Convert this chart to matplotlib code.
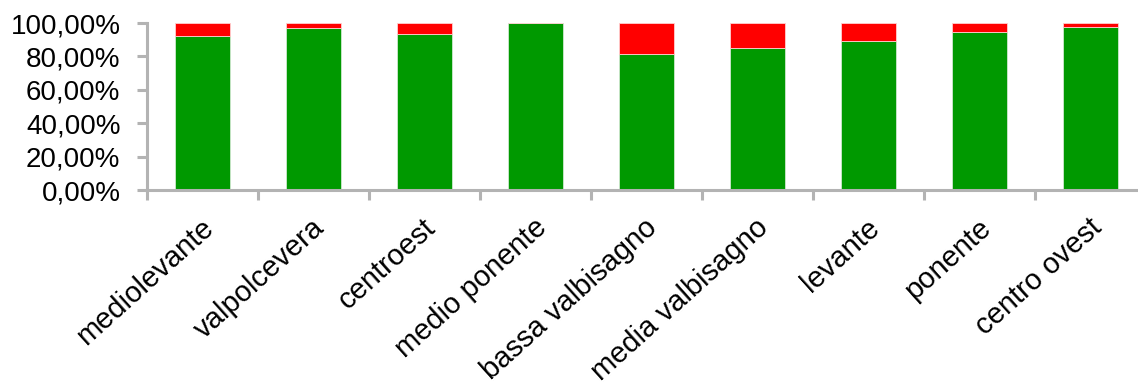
import matplotlib.pyplot as plt
import numpy as np
from matplotlib.ticker import FuncFormatter

plt.rcParams['font.family'] = ['Liberation Sans', 'DejaVu Sans']

zone = ['mediolevante', 'valpolcevera', 'centroest', 'medio ponente',
        'bassa valbisagno', 'media valbisagno', 'levante', 'ponente', 'centro ovest']
verde = [92.2, 97.3, 93.4, 100.0, 81.4, 85.3, 89.2, 94.6, 97.6]
rosso = [100 - v for v in verde]

grigio = '#b3b3b3'

fig = plt.figure(figsize=(11.38, 3.87), dpi=100)
ax = fig.add_axes([0.129, 0.509, 0.878, 0.4315])

x = np.arange(len(zone))
ax.bar(x, verde, width=0.5, color='#009900', edgecolor='#cfe8cf', linewidth=0.6)
ax.bar(x, rosso, bottom=verde, width=0.5, color='#ff0000', edgecolor='#ffd0d0', linewidth=0.6)

ax.set_xlim(-0.5, len(zone) - 0.5)
ax.set_ylim(0, 100)
ax.set_yticks(np.arange(0, 101, 20))
ax.yaxis.set_major_formatter(FuncFormatter(lambda v, p: f'{v:.2f}%'.replace('.', ',')))

# tick di categoria ai confini tra le barre
ax.set_xticks(np.arange(len(zone) + 1) - 0.5)
ax.set_xticklabels([])
ax.set_xticks(x - 0.02, minor=True)
ax.set_xticklabels(zone, minor=True, rotation=42, ha='right', va='top',
                   rotation_mode='anchor', fontsize=21)
ax.tick_params(axis='x', which='minor', length=0, pad=17)
ax.tick_params(axis='x', which='major', length=7, width=2.2, color=grigio)
ax.tick_params(axis='y', length=7, width=2.2, color=grigio, labelsize=20, pad=12)

for s in ['top', 'right']:
    ax.spines[s].set_visible(False)
for s in ['left', 'bottom']:
    ax.spines[s].set_color(grigio)
    ax.spines[s].set_linewidth(2.2)

fig.savefig('out.png', dpi=100)
